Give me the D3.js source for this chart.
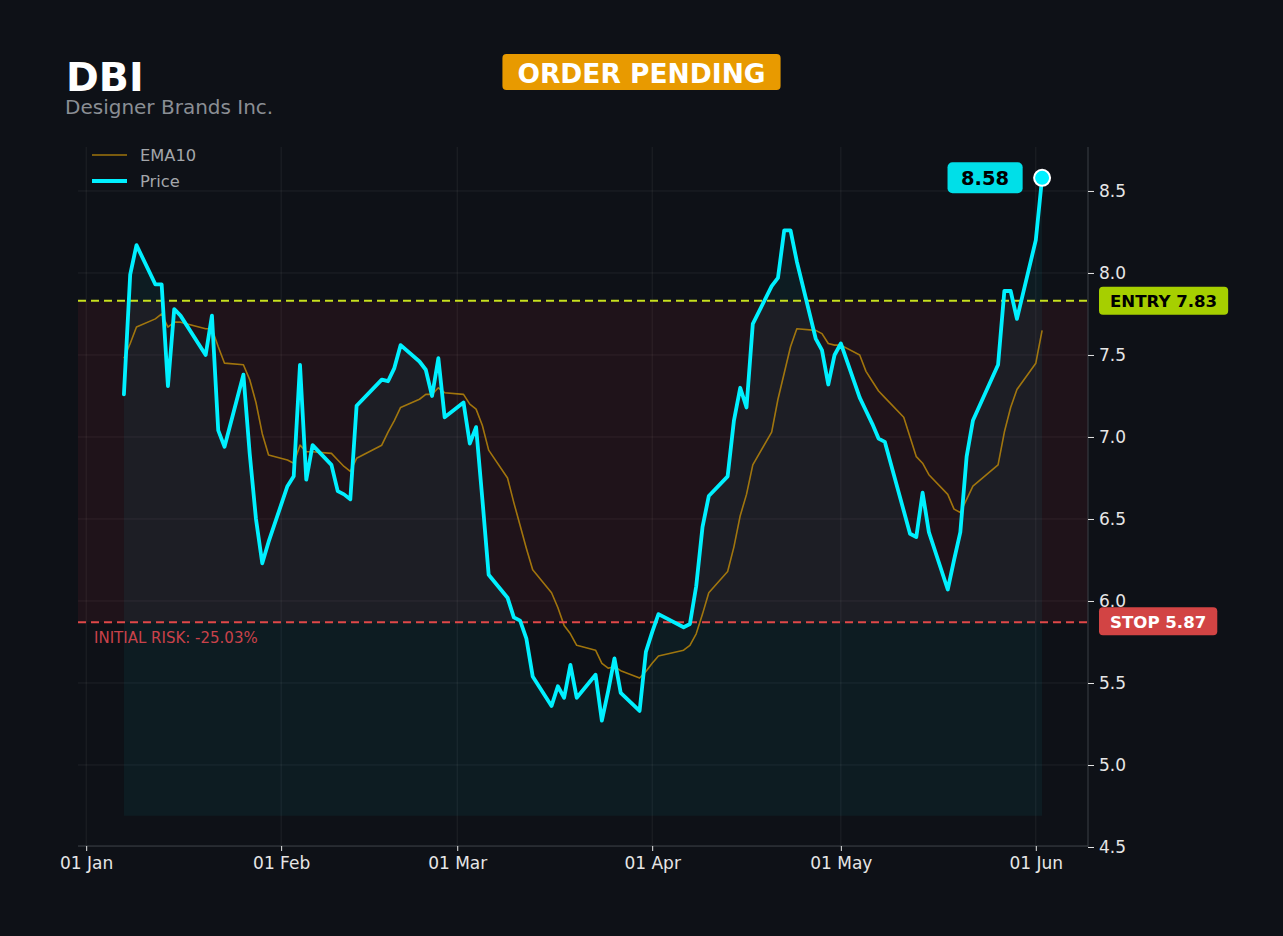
<!DOCTYPE html>
<html>
<head>
<meta charset="utf-8">
<script src="https://cdn.jsdelivr.net/npm/d3@7/dist/d3.min.js"></script>
<style>
  html, body { margin: 0; padding: 0; background: #0e1117; }
  svg { display: block; font-family: "DejaVu Sans", sans-serif; }
</style>
</head>
<body>
<svg id="chart" width="1283" height="936"></svg>
<script>
// ---------- data ----------
const ticker = "DBI";
const companyName = "Designer Brands Inc.";
const statusLabel = "ORDER PENDING";
const entryPrice = 7.83;
const stopPrice = 5.87;
const areaBase = 4.69;

const dates = [
  "2026-01-07","2026-01-08","2026-01-09","2026-01-12","2026-01-13","2026-01-14","2026-01-15","2026-01-16",
  "2026-01-20","2026-01-21","2026-01-22","2026-01-23","2026-01-26","2026-01-27","2026-01-28","2026-01-29","2026-01-30",
  "2026-02-02","2026-02-03","2026-02-04","2026-02-05","2026-02-06","2026-02-09","2026-02-10","2026-02-11","2026-02-12","2026-02-13",
  "2026-02-17","2026-02-18","2026-02-19","2026-02-20","2026-02-23","2026-02-24","2026-02-25","2026-02-26","2026-02-27",
  "2026-03-02","2026-03-03","2026-03-04","2026-03-05","2026-03-06","2026-03-09","2026-03-10","2026-03-11","2026-03-12","2026-03-13",
  "2026-03-16","2026-03-17","2026-03-18","2026-03-19","2026-03-20","2026-03-23","2026-03-24","2026-03-25","2026-03-26","2026-03-27",
  "2026-03-30","2026-03-31","2026-04-01","2026-04-02","2026-04-06","2026-04-07","2026-04-08","2026-04-09","2026-04-10",
  "2026-04-13","2026-04-14","2026-04-15","2026-04-16","2026-04-17","2026-04-20","2026-04-21","2026-04-22","2026-04-23","2026-04-24",
  "2026-04-27","2026-04-28","2026-04-29","2026-04-30","2026-05-01","2026-05-04","2026-05-05","2026-05-06","2026-05-07","2026-05-08",
  "2026-05-11","2026-05-12","2026-05-13","2026-05-14","2026-05-15","2026-05-18","2026-05-19","2026-05-20","2026-05-21","2026-05-22",
  "2026-05-26","2026-05-27","2026-05-28","2026-05-29","2026-06-01","2026-06-02"
];

const price = [
  7.26,7.99,8.17,7.93,7.93,7.31,7.78,7.74,
  7.50,7.74,7.04,6.94,7.38,6.90,6.50,6.23,6.36,
  6.70,6.76,7.44,6.74,6.95,6.83,6.67,6.65,6.62,7.19,
  7.35,7.34,7.42,7.56,7.46,7.41,7.25,7.48,7.12,
  7.21,6.96,7.06,6.62,6.16,6.02,5.90,5.88,5.77,5.54,
  5.36,5.48,5.41,5.61,5.41,5.55,5.27,5.45,5.65,5.44,
  5.33,5.69,5.81,5.92,5.84,5.86,6.09,6.45,6.64,
  6.76,7.10,7.30,7.18,7.69,7.92,7.97,8.26,8.26,8.07,
  7.60,7.53,7.32,7.50,7.57,7.24,7.16,7.08,6.99,6.97,
  6.55,6.41,6.39,6.66,6.42,6.07,6.25,6.42,6.88,7.10,
  7.44,7.89,7.89,7.72,8.20,8.58
];

const ema10 = [
  7.48,7.57,7.67,7.72,7.75,7.67,7.70,7.70,
  7.66,7.66,7.55,7.45,7.44,7.35,7.21,7.02,6.89,
  6.86,6.84,6.95,6.91,6.91,6.90,6.86,6.82,6.79,6.87,
  6.95,7.03,7.10,7.18,7.23,7.26,7.26,7.30,7.27,
  7.26,7.20,7.17,7.07,6.92,6.75,6.60,6.46,6.32,6.19,
  6.05,5.96,5.85,5.80,5.73,5.70,5.62,5.59,5.60,5.575,
  5.53,5.57,5.62,5.665,5.70,5.73,5.80,5.92,6.05,
  6.18,6.33,6.52,6.65,6.83,7.03,7.23,7.39,7.55,7.66,
  7.65,7.63,7.57,7.56,7.56,7.50,7.40,7.34,7.28,7.24,
  7.12,7.00,6.88,6.84,6.77,6.65,6.56,6.54,6.62,6.70,
  6.83,7.03,7.18,7.29,7.45,7.65
];

const yTickValues = [4.5, 5.0, 5.5, 6.0, 6.5, 7.0, 7.5, 8.0, 8.5];
const xTickDates = ["2026-01-01","2026-02-01","2026-03-01","2026-04-01","2026-05-01","2026-06-01"];
const yDomain = [4.5, 8.768];

// ---------- setup ----------
const svg = d3.select("#chart");
const W = 1283, H = 936;
const plot = { left: 78, right: 1088, top: 147, bottom: 847 };

const C = {
  bg: "#0e1117",
  grid: "rgba(255,255,255,0.07)",
  spine: "#3b4047",
  tick: "#e6e6e6",
  price: "#00f0ff",
  ema: "#b8860b",
  entry: "#c8e01e",
  entryBadge: "#a6cf00",
  stop: "#e04848",
  stopBadge: "#d24444",
  riskText: "#c9424a",
  title: "#ffffff",
  subtitle: "#8a8e94",
  status: "#e89a00",
  legendText: "#a3a6aa",
  lastBadge: "#00dfe8"
};

const parse = d3.utcParse("%Y-%m-%d");
const data = dates.map((d, i) => ({ date: parse(d), price: price[i], ema: ema10[i] }));

const d0 = data[0].date, d1 = data[data.length - 1].date;
const pad = (d1 - d0) * 0.05;
const x = d3.scaleUtc()
  .domain([new Date(+d0 - pad), new Date(+d1 + pad)])
  .range([plot.left, plot.right]);
const y = d3.scaleLinear().domain(yDomain).range([plot.bottom, plot.top]);

svg.append("rect").attr("width", W).attr("height", H).attr("fill", C.bg);

const clipId = "plotclip";
svg.append("clipPath").attr("id", clipId).append("rect")
  .attr("x", plot.left).attr("y", plot.top)
  .attr("width", plot.right - plot.left).attr("height", plot.bottom - plot.top);

const g = svg.append("g");
const pg = g.append("g").attr("clip-path", `url(#${clipId})`);

// grid
const xTicks = xTickDates.map(parse);
pg.append("g").selectAll("line").data(xTicks).join("line")
  .attr("x1", d => x(d)).attr("x2", d => x(d))
  .attr("y1", plot.top).attr("y2", plot.bottom)
  .attr("stroke", C.grid).attr("stroke-width", 1);
pg.append("g").selectAll("line").data(yTickValues).join("line")
  .attr("x1", plot.left).attr("x2", plot.right)
  .attr("y1", d => y(d)).attr("y2", d => y(d))
  .attr("stroke", C.grid).attr("stroke-width", 1);

// risk zone
pg.append("rect")
  .attr("x", plot.left).attr("width", plot.right - plot.left)
  .attr("y", y(entryPrice)).attr("height", y(stopPrice) - y(entryPrice))
  .attr("fill", "rgba(222,50,60,0.085)");

// price area
const area = d3.area()
  .x(d => x(d.date))
  .y0(y(areaBase))
  .y1(d => y(d.price));
pg.append("path").datum(data).attr("d", area)
  .attr("fill", "rgba(0,229,255,0.05)");

// EMA line
const emaLine = d3.line().x(d => x(d.date)).y(d => y(d.ema));
pg.append("path").datum(data).attr("d", emaLine)
  .attr("fill", "none").attr("stroke", C.ema).attr("stroke-width", 1.6)
  .attr("stroke-opacity", 0.85).attr("stroke-linejoin", "round");

// entry / stop lines
pg.append("line")
  .attr("x1", plot.left).attr("x2", plot.right)
  .attr("y1", y(entryPrice)).attr("y2", y(entryPrice))
  .attr("stroke", C.entry).attr("stroke-width", 2).attr("stroke-dasharray", "8,5");
pg.append("line")
  .attr("x1", plot.left).attr("x2", plot.right)
  .attr("y1", y(stopPrice)).attr("y2", y(stopPrice))
  .attr("stroke", C.stop).attr("stroke-width", 2).attr("stroke-dasharray", "8,5");

// price line
const priceLine = d3.line().x(d => x(d.date)).y(d => y(d.price));
pg.append("path").datum(data).attr("d", priceLine)
  .attr("fill", "none").attr("stroke", C.price).attr("stroke-width", 3.8)
  .attr("stroke-linejoin", "round").attr("stroke-linecap", "round");

// axes
const xAxis = d3.axisBottom(x).tickValues(xTicks)
  .tickFormat(d3.utcFormat("%d %b")).tickSize(5).tickPadding(6);
const xa = g.append("g").attr("transform", `translate(0,${plot.bottom - 1})`).call(xAxis);
xa.select(".domain").attr("stroke", C.spine).attr("d", `M${plot.left},0H${plot.right}`);
xa.selectAll(".tick line").attr("stroke", C.tick);
xa.selectAll(".tick text").attr("fill", C.tick).attr("font-size", 17)
  .attr("font-family", "DejaVu Sans");

const yAxis = d3.axisRight(y).tickValues(yTickValues)
  .tickFormat(d3.format(".1f")).tickSize(6).tickPadding(5);
const ya = g.append("g").attr("transform", `translate(${plot.right},0)`).call(yAxis);
ya.select(".domain").attr("stroke", C.spine).attr("d", `M0,${plot.top}V${plot.bottom}`);
ya.selectAll(".tick line").attr("stroke", C.tick);
ya.selectAll(".tick text").attr("fill", C.tick).attr("font-size", 17)
  .attr("font-family", "DejaVu Sans");

// badges helper
function badge(parent, cx, cy, text, opts) {
  const grp = parent.append("g");
  const t = grp.append("text").text(text)
    .attr("font-size", opts.size).attr("font-weight", "bold")
    .attr("fill", opts.color).attr("dominant-baseline", "central")
    .attr("font-family", "DejaVu Sans");
  const bb = t.node().getBBox();
  const w = bb.width + opts.padX * 2, h = opts.h;
  let x0 = opts.anchor === "start" ? cx : cx - w / 2;
  grp.insert("rect", "text")
    .attr("x", x0).attr("y", cy - h / 2).attr("width", w).attr("height", h)
    .attr("rx", opts.rx).attr("fill", opts.bg);
  t.attr("x", x0 + opts.padX).attr("y", cy + 1);
  return grp;
}

// entry / stop badges
badge(svg, plot.right + 11, y(entryPrice), `ENTRY ${entryPrice.toFixed(2)}`,
  { size: 16.6, color: "#000", bg: C.entryBadge, padX: 11, h: 28, rx: 4, anchor: "start" });
badge(svg, plot.right + 11, y(stopPrice) - 1, `STOP ${stopPrice.toFixed(2)}`,
  { size: 16.6, color: "#fff", bg: C.stopBadge, padX: 11, h: 28, rx: 4, anchor: "start" });

// initial risk text
const riskPct = (stopPrice - entryPrice) / entryPrice * 100;
svg.append("text")
  .attr("x", 94).attr("y", y(stopPrice) + 21)
  .attr("fill", C.riskText).attr("font-size", 15)
  .text(`INITIAL RISK: ${riskPct.toFixed(2)}%`);

// last price marker and badge
const last = data[data.length - 1];
svg.append("circle")
  .attr("cx", x(last.date)).attr("cy", y(last.price)).attr("r", 8)
  .attr("fill", C.price).attr("stroke", "#ffffff").attr("stroke-width", 2);
badge(svg, x(last.date) - 57, y(last.price), last.price.toFixed(2),
  { size: 19.5, color: "#000", bg: C.lastBadge, padX: 13.5, h: 31, rx: 5, anchor: "middle" });

// legend
const legend = svg.append("g");
const legItems = [
  { label: "EMA10", color: C.ema, w: 1.6, op: 0.85, yy: 155 },
  { label: "Price", color: C.price, w: 3.8, op: 1, yy: 181 }
];
legItems.forEach(it => {
  legend.append("line").attr("x1", 92).attr("x2", 127).attr("y1", it.yy).attr("y2", it.yy)
    .attr("stroke", it.color).attr("stroke-width", it.w).attr("stroke-opacity", it.op);
  legend.append("text").attr("x", 140).attr("y", it.yy + 6)
    .attr("fill", C.legendText).attr("font-size", 16.3).text(it.label);
});

// titles
svg.append("text").attr("x", 66).attr("y", 91)
  .attr("fill", C.title).attr("font-size", 39.5).attr("font-weight", "bold").text(ticker);
svg.append("text").attr("x", 65).attr("y", 114)
  .attr("fill", C.subtitle).attr("font-size", 20).text(companyName);

badge(svg, 641.5, 72, statusLabel,
  { size: 26.5, color: "#fff", bg: C.status, padX: 15, h: 36, rx: 4, anchor: "middle" });
</script>
</body>
</html>
